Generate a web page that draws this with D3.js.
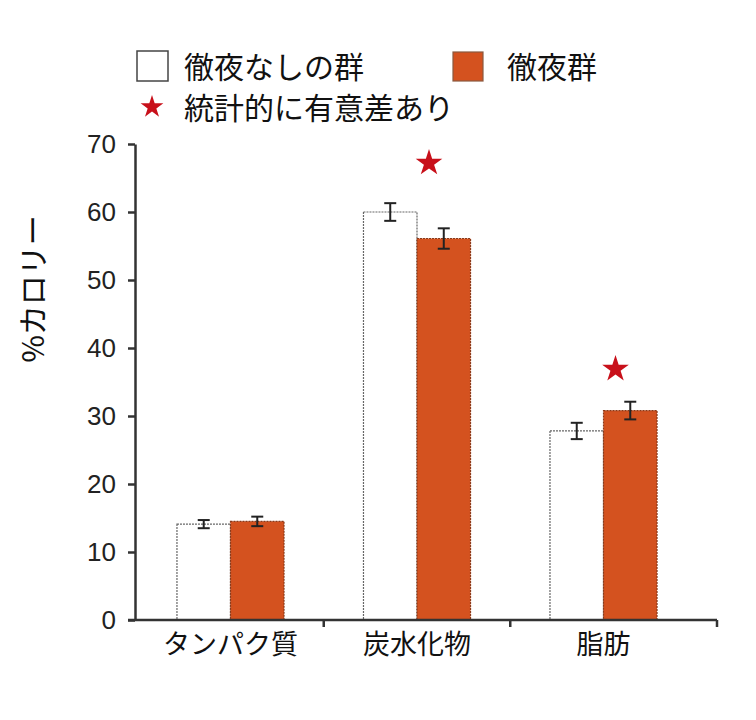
<!DOCTYPE html>
<html><head><meta charset="utf-8">
<script src="https://cdn.jsdelivr.net/npm/d3@7"></script>
<style>body{margin:0;background:#fff}</style>
</head><body><div id="chart"></div>
<script>
const categories = ["タンパク質", "炭水化物", "脂肪"];
const seriesNames = ["徹夜なしの群", "徹夜群"];
const controlValues = [14.1, 60.0, 27.8];
const controlErrors = [0.6, 1.3, 1.2];
const allnightValues = [14.5, 56.1, 30.8];
const allnightErrors = [0.7, 1.5, 1.3];
const starLevels = [null, 67.2, 36.9];
const yTicks = [0, 10, 20, 30, 40, 50, 60, 70];
const yLabel = "%カロリー";
const sigLabel = "統計的に有意差あり";

const W = 756, H = 720;
const JP = "'Noto Sans CJK JP', 'Noto Sans', sans-serif";
const NUM = "'Liberation Sans', Arial, sans-serif";
const orange = "#d4521f";

const svg = d3.select("#chart").append("svg").attr("width", W).attr("height", H);

const x = d3.scaleBand().domain(categories).range([135, 699]).paddingInner(0.426).paddingOuter(0.225);
const xs = d3.scaleBand().domain(seriesNames).range([0, x.bandwidth()]);
const y = d3.scaleLinear().domain([0, 70]).range([620, 144]);

const data = categories.map((c, i) => ({
  cat: c,
  vals: [
    {s: seriesNames[0], v: controlValues[i], e: controlErrors[i]},
    {s: seriesNames[1], v: allnightValues[i], e: allnightErrors[i]}
  ],
  star: starLevels[i]
}));

// bars
const g = svg.append("g");
const groups = g.selectAll("g.cat").data(data).join("g")
  .attr("transform", d => `translate(${x(d.cat)},0)`);
groups.selectAll("rect").data(d => d.vals).join("rect")
  .attr("x", d => xs(d.s)).attr("width", xs.bandwidth())
  .attr("y", d => y(d.v)).attr("height", d => y(0) - y(d.v))
  .attr("fill", (d, i) => i === 0 ? "#fff" : orange)
  .attr("stroke", (d, i) => i === 0 ? "#666" : "#8a3a1a")
  .attr("stroke-width", 1.2).attr("stroke-dasharray", "2,1");

// error bars
const eb = groups.selectAll("g.err").data(d => d.vals).join("g").attr("class", "err");
eb.append("line")
  .attr("x1", d => xs(d.s) + xs.bandwidth() / 2).attr("x2", d => xs(d.s) + xs.bandwidth() / 2)
  .attr("y1", d => y(d.v + d.e)).attr("y2", d => y(d.v - d.e))
  .attr("stroke", "#222").attr("stroke-width", 2);
[1, -1].forEach(sg => {
  eb.append("line")
    .attr("x1", d => xs(d.s) + xs.bandwidth() / 2 - 6).attr("x2", d => xs(d.s) + xs.bandwidth() / 2 + 6)
    .attr("y1", d => y(d.v + sg * d.e)).attr("y2", d => y(d.v + sg * d.e))
    .attr("stroke", "#222").attr("stroke-width", 2);
});

// stars
const star = d3.symbol().type(d3.symbolStar).size(220);
groups.filter(d => d.star != null).append("path")
  .attr("d", star)
  .attr("fill", "#c8101a")
  .attr("transform", d => `translate(${x.bandwidth() / 2 + 12},${y(d.star)})`);

// y axis
const yAxis = svg.append("g").attr("transform", "translate(135,0)")
  .call(d3.axisLeft(y).tickValues(yTicks).tickSize(7).tickPadding(12).tickSizeOuter(0));
yAxis.select(".domain").attr("stroke", "#333").attr("stroke-width", 2.5);
yAxis.selectAll(".tick line").attr("stroke", "#333").attr("stroke-width", 2.5);
yAxis.selectAll(".tick text").attr("font-family", NUM).attr("font-size", 26).attr("fill", "#222");

// x axis
const xAxis = svg.append("g").attr("transform", `translate(0,${y(0)})`)
  .call(d3.axisBottom(x).tickSize(0).tickPadding(15));
xAxis.select(".domain").remove();
xAxis.selectAll(".tick text").attr("font-family", JP).attr("font-size", 27).attr("fill", "#111");
svg.append("line").attr("x1", 128).attr("x2", 717).attr("y1", y(0)).attr("y2", y(0))
  .attr("stroke", "#333").attr("stroke-width", 2.5);
const gap = x.step() - x.bandwidth();
const bounds = [x(categories[1]) - gap / 2, x(categories[2]) - gap / 2, 717];
svg.selectAll("line.xt").data(bounds).join("line").attr("class", "xt")
  .attr("x1", d => d).attr("x2", d => d).attr("y1", y(0)).attr("y2", y(0) + 7)
  .attr("stroke", "#333").attr("stroke-width", 2.5);

// y label
svg.append("text").attr("transform", "translate(44,289) rotate(-90)")
  .attr("text-anchor", "middle").attr("font-family", JP).attr("font-size", 30).attr("fill", "#111")
  .text(yLabel);

// legend
const leg = svg.append("g");
leg.append("rect").attr("x", 137).attr("y", 51).attr("width", 31).attr("height", 30)
  .attr("fill", "#fff").attr("stroke", "#444").attr("stroke-width", 1.5);
leg.append("text").attr("x", 184).attr("y", 78).attr("font-family", JP).attr("font-size", 30).attr("fill", "#111").text(seriesNames[0]);
leg.append("rect").attr("x", 453).attr("y", 52).attr("width", 30).attr("height", 29)
  .attr("fill", orange).attr("stroke", "#8a5a40").attr("stroke-width", 1.2);
leg.append("text").attr("x", 507).attr("y", 78).attr("font-family", JP).attr("font-size", 30).attr("fill", "#111").text(seriesNames[1]);
leg.append("path").attr("d", d3.symbol().type(d3.symbolStar).size(160)).attr("fill", "#c8101a")
  .attr("transform", "translate(152,107)");
leg.append("text").attr("x", 184).attr("y", 119).attr("font-family", JP).attr("font-size", 30).attr("fill", "#111").text(sigLabel);
</script></body></html>
